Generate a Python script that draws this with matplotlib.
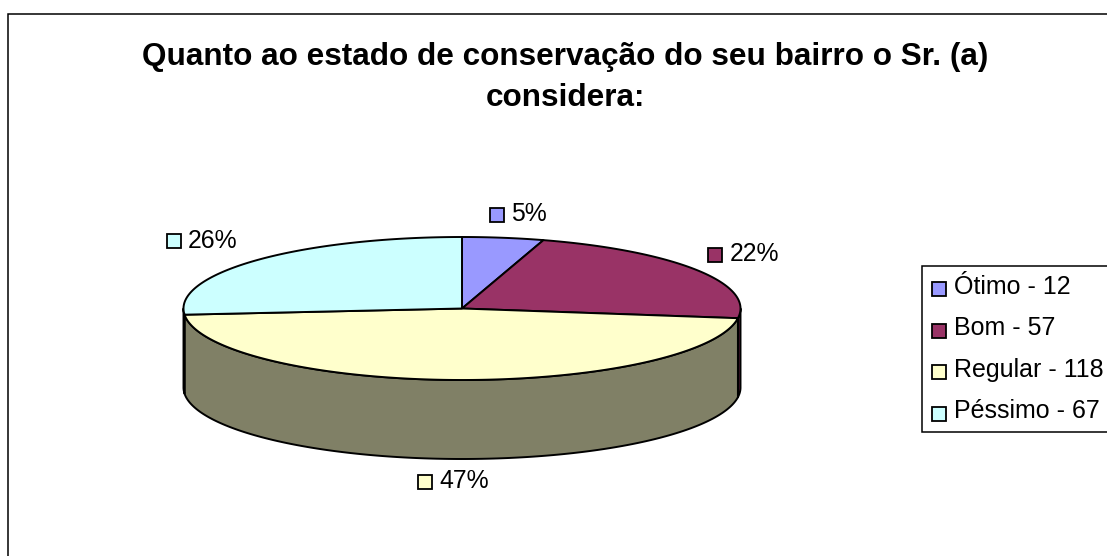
import numpy as np
import matplotlib
matplotlib.use("Agg")
import matplotlib.pyplot as plt
from matplotlib.patches import Polygon, Rectangle

title_lines = ["Quanto ao estado de conservação do seu bairro o Sr. (a)", "considera:"]
categories = ["Ótimo", "Bom", "Regular", "Péssimo"]
values = [12, 57, 118, 67]
pct_labels = ["5%", "22%", "47%", "26%"]
top_colors = ["#9999FF", "#993366", "#FFFFCC", "#CCFFFF"]
side_colors = ["#4D4D80", "#5A1F3D", "#808066", "#668080"]

W, H = 1107, 556
cx, cy, rx, ry, depth = 462.0, 308.5, 278.5, 71.5, 79.0
lw = 1.4
font = "Liberation Sans"

fig = plt.figure(figsize=(W / 100, H / 100), dpi=100, facecolor="white")
ax = fig.add_axes([0, 0, 1, 1])
ax.set_xlim(0, W)
ax.set_ylim(H, 0)
ax.axis("off")

# Chart-area frame (runs off the right and bottom of the image)
ax.add_patch(Rectangle((7.5, 13.5), W + 20, H + 20, fc="white", ec="black", lw=1.1, zorder=0))


def rim(a0, a1, n=200):
    a = np.radians(np.linspace(a0, a1, n))
    return cx + rx * np.sin(a), cy - ry * np.cos(a)


edges = np.concatenate([[0], np.cumsum(values)]) / np.sum(values) * 360

# Visible outer wall: only the front half (90..270 degrees, clockwise from top)
for i, col in enumerate(side_colors):
    a0, a1 = max(edges[i], 90), min(edges[i + 1], 270)
    if a1 <= a0:
        continue
    x, y = rim(a0, a1)
    px = np.concatenate([x, x[::-1]])
    py = np.concatenate([y, y[::-1] + depth])
    ax.add_patch(Polygon(np.c_[px, py], closed=True, fc=col, ec="black", lw=lw, joinstyle="round", zorder=2))

# Top faces
for i, col in enumerate(top_colors):
    x, y = rim(edges[i], edges[i + 1])
    pts = np.vstack([[cx, cy], np.c_[x, y]])
    ax.add_patch(Polygon(pts, closed=True, fc=col, ec="black", lw=lw, joinstyle="round", zorder=3))

# Title
ax.text(565.5, 65.5, title_lines[0], family=font, weight="bold", fontsize=22.7, ha="center", va="baseline", color="black")
ax.text(565.5, 105.5, title_lines[1], family=font, weight="bold", fontsize=22.7, ha="center", va="baseline", color="black")


def swatch(x, y, col, s=14):
    ax.add_patch(Rectangle((x, y), s, s, fc=col, ec="black", lw=1.3, zorder=4))


# Data labels: swatch x, swatch y, text x, baseline y
label_pos = [(489.5, 207.5, 511, 221), (707.5, 247.5, 730, 261), (418, 475, 439.5, 488.5), (166.5, 233.5, 188, 248)]
for (sx, sy, tx, ty), lab, col in zip(label_pos, pct_labels, top_colors):
    swatch(sx, sy, col)
    ax.text(tx, ty, lab, family=font, fontsize=17.8, ha="left", va="baseline", color="black")

# Legend box (runs off the right edge)
ax.add_patch(Rectangle((921.5, 265.5), W, 166, fc="white", ec="black", lw=1.1, zorder=3))
swatch_y = [282, 324, 365, 407]
base_y = [293.5, 335, 376.5, 418]
for name, val, col, sy, by in zip(categories, values, top_colors, swatch_y, base_y):
    swatch(931.5, sy, col)
    ax.text(954.5, by, f"{name} - {val}", family=font, fontsize=18, ha="left", va="baseline", color="black", zorder=5)

fig.savefig("out.png", dpi=100, facecolor="white")
